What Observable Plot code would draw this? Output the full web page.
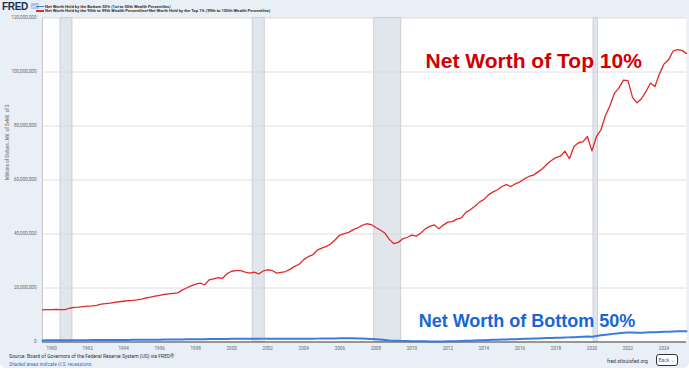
<!DOCTYPE html>
<html>
<head>
<meta charset="utf-8">
<script src="https://cdn.jsdelivr.net/npm/d3@7"></script>
<script src="https://cdn.jsdelivr.net/npm/@observablehq/plot@0.6"></script>
<style>
  body { margin: 0; background: #ffffff; }
  #wrap { position: relative; width: 689px; height: 368px; background: #e9eff7; border-radius: 0 0 6px 6px; overflow: hidden; font-family: Roboto, "Liberation Sans", sans-serif; }
  #chart { position: absolute; left: 0; top: 0; }
  .abs { position: absolute; white-space: nowrap; }
  #fred { left: 2px; top: 1px; font: 900 10px "Liberation Sans", Arial, sans-serif; color: #1c2f55; letter-spacing: -0.3px; }
  .leg { left: 45px; font-size: 4.2px; font-weight: bold; color: #333; line-height: 5px; }
  .sw { position: absolute; left: 36px; width: 8px; height: 1.6px; }
  #src { left: 9px; top: 353px; font-size: 5px; color: #333; }
  #shade { left: 9px; top: 360.5px; font-size: 5px; color: #2a6ad8; font-style: italic; }
  #url { left: 607px; top: 358px; font-size: 5px; color: #333; }
  #back { left: 656px; top: 353.5px; width: 20px; height: 10px; border: 1.5px solid #333; border-radius: 3px; background: #fff; font-size: 5px; color: #2a6ad8; text-align: center; line-height: 10px; }
</style>
</head>
<body>
<div id="wrap">
  <div id="chart"></div>
  <div class="abs" id="fred">FRED <svg width="8" height="6" viewBox="0 0 8 6" style="vertical-align:1px"><rect x="0" y="0" width="8" height="6" fill="#a9c3e6"/><polyline points="0.5,5 3,3 5,4 7.5,1" fill="none" stroke="#ffffff" stroke-width="0.8"/></svg></div>
  <div class="sw" style="top:5.5px;background:#3b7ddd"></div>
  <div class="sw" style="top:10px;background:#dd2a2a"></div>
  <div class="abs leg" style="top:3.5px">Net Worth Held by the Bottom 50% (1st to 50th Wealth Percentiles)</div>
  <div class="abs leg" style="top:8px">Net Worth Held by the 90th to 99th Wealth Percentiles+Net Worth Held by the Top 1% (99th to 100th Wealth Percentiles)</div>
  <div class="abs" id="src">Source: Board of Governors of the Federal Reserve System (US) via FRED®</div>
  <div class="abs" id="shade">Shaded areas indicate U.S. recessions.</div>
  <div class="abs" id="url">fred.stlouisfed.org</div>
  <div class="abs" id="back">Back ⇔</div>
</div>
<script>
// Quarterly values, trillions of dollars (axis shows millions of dollars)
const years = [1989,1990,1991,1992,1993,1994,1995,1996,1997,1998,1999,2000,2001,2002,2003,2004,2005,2006,2007,2008,2009,2010,2011,2012,2013,2014,2015,2016,2017,2018,2019,2020,2021,2022,2023,2024,2025];

const top10 = [
  [null,null,11.9,12.0],[12.0,12.1,12.0,12.0],[12.5,12.8,12.9,13.1],[13.3,13.4,13.6,14.0],
  [14.2,14.4,14.7,14.9],[15.1,15.3,15.4,15.6],[15.9,16.3,16.6,17.0],[17.3,17.6,17.8,18.0],
  [18.2,19.2,20.0,20.8],[21.4,21.8,21.2,23.0],[23.4,23.8,23.6,25.3],[26.2,26.4,26.4,25.9],
  [25.5,25.9,25.2,26.3],[26.7,26.5,25.5,25.8],[26.1,27.0,28.0,28.8],[30.5,31.6,32.3,34.0],
  [34.8,35.4,36.3,37.9],[39.6,40.1,40.6,41.6],[42.3,43.2,43.8,43.5],[42.4,41.5,40.4,38.0],
  [36.4,36.9,38.2,38.8],[39.6,39.2,40.4,41.9],[42.8,43.4,41.9,43.3],[44.4,44.6,45.5,46.0],
  [48.0,49.0,50.3,51.8],[52.8,54.5,55.5,56.4],[57.6,58.3,57.6,58.6],[59.3,60.4,61.3,61.8],
  [63.0,64.2,65.8,67.2],[68.3,68.8,70.7,67.9],[72.4,73.8,74.1,76.1],[70.8,76.1,78.6,83.9],
  [87.6,92.1,94.1,97.0],[96.8,90.7,88.6,90.1],[92.8,95.9,94.6,99.3],[103.0,104.5,107.7,108.3],
  [108.0,106.8,null,null]
];

const bottom50 = [
  [null,null,0.60,0.61],[0.62,0.63,0.63,0.64],[0.65,0.66,0.67,0.68],[0.69,0.70,0.71,0.72],
  [0.73,0.74,0.75,0.76],[0.77,0.78,0.79,0.80],[0.81,0.82,0.83,0.84],[0.86,0.88,0.90,0.92],
  [0.94,0.96,0.98,1.00],[1.02,1.04,1.05,1.07],[1.09,1.11,1.13,1.15],[1.17,1.19,1.21,1.22],
  [1.23,1.24,1.24,1.25],[1.25,1.24,1.22,1.20],[1.18,1.17,1.17,1.18],[1.19,1.21,1.23,1.25],
  [1.27,1.29,1.31,1.33],[1.35,1.36,1.36,1.35],[1.33,1.29,1.23,1.15],[1.03,0.91,0.76,0.60],
  [0.48,0.42,0.38,0.35],[0.32,0.28,0.25,0.24],[0.22,0.21,0.20,0.21],[0.24,0.28,0.32,0.36],
  [0.42,0.48,0.55,0.62],[0.68,0.74,0.80,0.86],[0.92,0.97,1.01,1.06],[1.11,1.16,1.21,1.26],
  [1.32,1.38,1.44,1.50],[1.56,1.62,1.68,1.72],[1.80,1.88,1.95,2.02],[1.95,2.25,2.48,2.70],
  [2.90,3.10,3.25,3.40],[3.50,3.50,3.45,3.45],[3.50,3.58,3.62,3.70],[3.78,3.84,3.90,3.95],
  [3.98,4.00,null,null]
];

const recessionStarts = ["1990-07-01","2001-03-01","2007-12-01","2020-02-01"];
const recessionEnds   = ["1991-03-01","2001-11-01","2009-06-01","2020-04-30"];

const xTickYears = [1990,1992,1994,1996,1998,2000,2002,2004,2006,2008,2010,2012,2014,2016,2018,2020,2022,2024];
const yTicks = [0,20,40,60,80,100,120];

const annotations = [
  {label: "Net Worth of Top 10%", date: "2010-10-07", value: 101.3, color: "#d00000", size: 21},
  {label: "Net Worth of Bottom 50%", date: "2010-05-20", value: 5.4, color: "#1766d6", size: 18}
];

function toRows(table) {
  const rows = [];
  table.forEach((qs, i) => qs.forEach((v, q) => {
    if (v != null) rows.push({date: new Date(Date.UTC(years[i], q * 3, 1)), value: v});
  }));
  return rows;
}
const topRows = toRows(top10);
const bottomRows = toRows(bottom50);
const recessions = recessionStarts.map((s, i) => ({start: new Date(s), end: new Date(recessionEnds[i])}));
const xTicks = xTickYears.map(y => new Date(Date.UTC(y, 0, 1)));
const annRows = annotations.map(a => ({...a, date: new Date(a.date)}));

const chart = Plot.plot({
  width: 689,
  height: 368,
  marginLeft: 42,
  marginRight: 3,
  marginTop: 17.5,
  marginBottom: 26.5,
  style: {background: "transparent", fontFamily: "Roboto, sans-serif", overflow: "visible"},
  x: {type: "utc", domain: [new Date("1989-07-01"), new Date("2025-04-01")]},
  y: {domain: [0, 120]},
  marks: [
    Plot.frame({fill: "#ffffff", stroke: null}),
    Plot.rect(recessions, {x1: "start", x2: "end", fill: "#e1e6ed", stroke: "#c3c8d0", strokeWidth: 0.8}),
    Plot.gridY(yTicks, {stroke: "#d6d6d6", strokeOpacity: 1, strokeWidth: 0.8}),
    Plot.frame({anchor: "left", stroke: "#c8c8c8"}),
    Plot.ruleY([0], {stroke: "#444", strokeWidth: 1.2}),
    Plot.line(bottomRows, {x: "date", y: "value", stroke: "#3b7ddd", strokeWidth: 2}),
    Plot.line(topRows, {x: "date", y: "value", stroke: "#dd2a2a", strokeWidth: 1.3}),
    Plot.text(annRows, {x: "date", y: "value", text: "label", fill: "color", fontSize: d => d.size, fontWeight: "bold", fontFamily: "'Liberation Sans', Arial, sans-serif", textAnchor: "start", lineAnchor: "bottom"}),
    Plot.axisY(yTicks, {tickFormat: d => d3.format(",")(d * 1e6), tickSize: 0, tickPadding: 6, label: null, fontSize: 4.6, fill: "#666"}),
    Plot.axisX(xTicks, {tickFormat: d3.utcFormat("%Y"), tickSize: 0, tickPadding: 5, label: null, fontSize: 4.6, fill: "#666"}),
    Plot.text(["Millions of Dollars , Mil. of $+Mil. of $"], {frameAnchor: "left", dx: -35, rotate: -90, fontSize: 4.6, fill: "#666", text: d => d})
  ]
});
document.getElementById("chart").appendChild(chart);
</script>
</body>
</html>
